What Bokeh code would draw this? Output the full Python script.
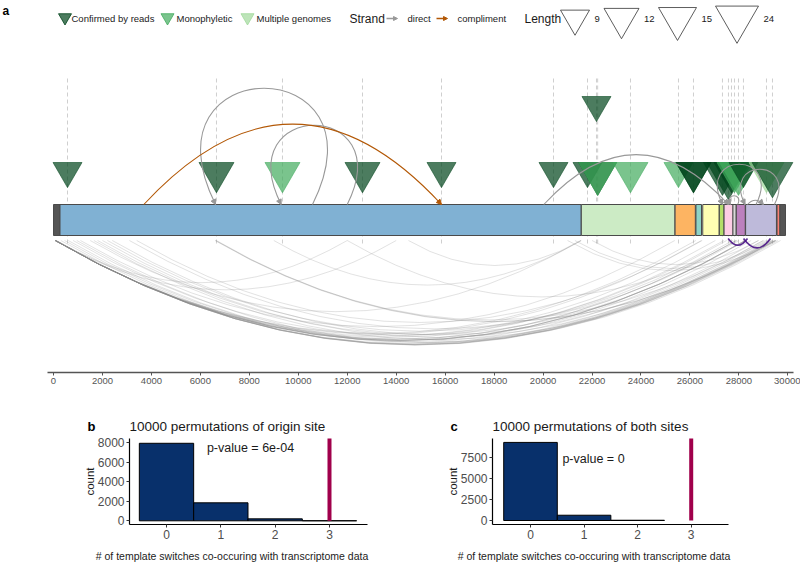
import numpy as np
from bokeh.plotting import figure
from bokeh.layouts import column, row
from bokeh.models import Range1d, FixedTicker, ColumnDataSource, Arrow, NormalHead
from bokeh.core.properties import value
from bokeh.embed import file_html
from bokeh.resources import INLINE

FONT = "Liberation Sans"

# ---------------- data ----------------
gene_names = ["5'UTR", "ORF1ab", "S", "ORF3a", "E", "M", "ORF6", "ORF7a", "ORF7b", "ORF8", "N", "ORF10", "3'UTR"]
gene_start = [1, 266, 21563, 25393, 26245, 26523, 27202, 27394, 27756, 27894, 28274, 29558, 29675]
gene_end = [265, 21555, 25384, 26220, 26472, 27191, 27387, 27759, 27887, 28259, 29533, 29674, 29903]
gene_colors = ["#555555", "#80b1d3", "#ccebc5", "#fdb462", "#8dd3c7", "#ffffb3", "#b3de69",
               "#fccde5", "#d9d9d9", "#bc80bd", "#bebada", "#fb8072", "#555555"]

genome_ticks = [0, 2000, 4000, 6000, 8000, 10000, 12000, 14000, 16000, 18000, 20000,
                22000, 24000, 26000, 28000, 30000]

site_pos = [572, 6658, 9354, 12623, 15850, 20425, 21814, 22181, 22230, 22230, 23570, 25531,
            26144, 26144, 27328, 27573, 27696, 27819, 27982, 28186, 29126, 29371]
site_len = [9, 12, 12, 12, 9, 9, 9, 9, 15, 15, 12, 9, 12, 12, 15, 24, 12, 12, 15, 9, 12, 20]
site_cat = ["Confirmed by reads", "Confirmed by reads", "Monophyletic", "Confirmed by reads",
            "Confirmed by reads", "Confirmed by reads", "Confirmed by reads", "Confirmed by reads",
            "Confirmed by reads", "Monophyletic", "Monophyletic", "Monophyletic",
            "Confirmed by reads", "Confirmed by reads", "Confirmed by reads", "Confirmed by reads",
            "Confirmed by reads", "Monophyletic", "Monophyletic", "Confirmed by reads",
            "Multiple genomes", "Confirmed by reads"]
site_row = [0, 0, 0, 0, 0, 0, 0, 1, 0, 0, 0, 0, 0, 0, 0, 0, 0, 0, 0, 0, 0, 0]

categories = ["Confirmed by reads", "Monophyletic", "Multiple genomes"]
cat_colors = {"Confirmed by reads": "#00441b", "Monophyletic": "#41ab5d", "Multiple genomes": "#a1d99b"}
legend_lengths = [9, 12, 15, 24]

# template switches (origin -> destination) above the genome
upper_from = [3690, 10580, 12000, 20030, 28700, 29450, 27950, 28350]
upper_to = [15850, 6620, 9300, 27575, 27330, 28250, 27650, 29000]
upper_strand = ["compliment", "direct", "direct", "direct", "direct", "direct", "direct", "direct"]
strand_names = ["direct", "compliment"]
strand_colors = {"direct": "#999999", "compliment": "#b35806"}

# transcriptome junctions below the genome
lower_from = [70, 70, 70, 72, 75, 68, 70, 74, 80, 66, 70, 71, 69, 73, 1100, 1500, 1650, 1800,
              2200, 2400, 300, 450, 600, 800, 950, 6600, 6650, 6620, 3100, 3400, 12000, 9000,
              14500, 21000, 21300, 22000, 100, 120, 70, 75, 80, 2000]
lower_to = [29530, 29450, 29380, 29250, 29100, 28260, 28255, 28270, 27900, 27890, 27390, 27040,
            26470, 26240, 25380, 21550, 29600, 28300, 27750, 29000, 28800, 28500, 29350, 27500,
            29700, 29500, 29480, 29000, 28000, 26500, 27900, 21560, 21550, 29500, 29200, 28800,
            14000, 12000, 29400, 28260, 29500, 29300]
confirmed_from = [27560, 28190]
confirmed_to = [28350, 29290]

perm_bins_origin = [0, 1, 2, 3]
perm_counts_origin = [7950, 1844, 200, 6]
perm_bins_both = [0, 1, 2]
perm_counts_both = [9340, 630, 30]
observed_switches = 3
pvalue_origin = "p-value = 6e-04"
pvalue_both = "p-value = 0"
hist_yticks_origin = [0, 2000, 4000, 6000, 8000]
hist_yticks_both = [0, 2500, 5000, 7500]
hist_xticks = [0, 1, 2, 3]
xlab_text = "# of template switches co-occuring with transcriptome data"

# ---------------- panel a ----------------
A_W, A_H = 800, 400
GX0 = 53.0              # page x of genome position 0
PPU = 746 / 30475       # pixels per nucleotide
AXIS_Y = 372            # page y of the genome axis


def gx(px):
    return (px - GX0) / PPU


def ya(py):
    return AXIS_Y - py


pa = figure(width=A_W, height=A_H, x_range=Range1d(gx(0), gx(A_W)), y_range=Range1d(ya(A_H), ya(0)),
            output_backend="svg", toolbar_location=None, y_axis_location=None, min_border=0)
pa.xgrid.visible = False
pa.ygrid.visible = False
pa.outline_line_color = None
pa.xaxis.fixed_location = ya(AXIS_Y)
pa.xaxis.bounds = (gx(47), gx(793))
pa.xaxis.ticker = FixedTicker(ticks=genome_ticks)
pa.xaxis.axis_line_color = "#555555"
pa.xaxis.axis_line_width = 1.5
pa.xaxis.major_tick_line_color = "#555555"
pa.xaxis.major_tick_out = 3
pa.xaxis.major_tick_in = 0
pa.xaxis.minor_tick_line_color = None
pa.xaxis.major_label_text_font = FONT
pa.xaxis.major_label_text_font_size = "9.5px"
pa.xaxis.major_label_text_color = "#555555"
pa.xaxis.major_label_standoff = 2

# dashed site markers
uniq_sites = sorted(set(site_pos))
pa.segment(x0=uniq_sites, y0=ya(243), x1=uniq_sites, y1=ya(75), line_color="#cfcfcf",
           line_dash="4 3", line_width=1)

# lower junction arcs
lf = np.array(lower_from, dtype=float)
lt = np.array(lower_to, dtype=float)
lo_base = ya(240)
depth = 0.145 * np.abs(lt - lf) * PPU
pa.quadratic(x0=lf, y0=lo_base, x1=lt, y1=lo_base, cx=(lf + lt) / 2, cy=lo_base - 2 * depth,
             line_color="#8c8c8c", line_alpha=0.25, line_width=1)
cf = np.array(confirmed_from, dtype=float)
ct = np.array(confirmed_to, dtype=float)
cdepth = 0.35 * np.abs(ct - cf) * PPU
pa.quadratic(x0=cf, y0=lo_base + 2, x1=ct, y1=lo_base + 2, cx=(cf + ct) / 2, cy=lo_base + 2 - 2 * cdepth,
             line_color="#4a1486", line_alpha=0.9, line_width=1.6)

# genome bar
pa.quad(left=gene_start, right=gene_end, bottom=ya(235), top=ya(204), fill_color=gene_colors,
        line_color="#4a4a4a", line_width=1)


def tri_size(L):
    return np.interp(L, [9, 12, 15, 24], [29, 35, 38, 43])


sizes = tri_size(np.array(site_len, dtype=float))
base = np.where(np.array(site_row) == 1, ya(96), ya(162))
yc = base - sizes * np.sqrt(3) / 2 / 3
tcol = [cat_colors[c] for c in site_cat]
pa.scatter(x=site_pos, y=yc, size=sizes, marker="inverted_triangle", fill_color=tcol,
           fill_alpha=0.7, line_color=tcol, line_alpha=0.8, line_width=0.7)

# upper template-switch arcs
up_base = ya(204)
for strand in strand_names:
    col = strand_colors[strand]
    xs_e, ys_e, xs_s, ys_s = [], [], [], []
    fw = dict(x0=[], x1=[], cx=[], cy=[])
    bw = dict(x0=[], x1=[], cx0=[], cx1=[], cy=[])
    for f, t, s in zip(upper_from, upper_to, upper_strand):
        if s != strand:
            continue
        span_px = abs(t - f) * PPU
        if t > f:
            hgt = 0.27 * span_px
            cx, cy = (f + t) / 2, up_base + 2 * hgt
            fw["x0"].append(f); fw["x1"].append(t); fw["cx"].append(cx); fw["cy"].append(cy)
            dx, dy = (t - cx) * PPU, up_base - cy
        else:
            k = 0.8 * abs(t - f)
            h = 1.6 * span_px
            bw["x0"].append(f); bw["x1"].append(t)
            bw["cx0"].append(f + k); bw["cx1"].append(t - k); bw["cy"].append(up_base + h)
            dx, dy = k * PPU, -h
        n = np.hypot(dx, dy)
        xs_e.append(t); ys_e.append(up_base)
        xs_s.append(t - dx / n * 4 / PPU); ys_s.append(up_base - dy / n * 4)
    if fw["x0"]:
        pa.quadratic(x0=fw["x0"], y0=up_base, x1=fw["x1"], y1=up_base, cx=fw["cx"], cy=fw["cy"],
                     line_color=col, line_width=1.1)
    if bw["x0"]:
        pa.bezier(x0=bw["x0"], y0=up_base, x1=bw["x1"], y1=up_base, cx0=bw["cx0"], cy0=bw["cy"],
                  cx1=bw["cx1"], cy1=bw["cy"], line_color=col, line_width=1.1)
    if xs_e:
        src = ColumnDataSource(dict(xs=xs_s, ys=ys_s, xe=xs_e, ye=ys_e))
        pa.add_layout(Arrow(end=NormalHead(size=5, fill_color=col, line_color=col, line_width=1),
                            x_start="xs", y_start="ys", x_end="xe", y_end="ye", source=src,
                            line_color=col, line_width=1.1))

# legend (positions in page pixels)
LY = ya(18)
leg_tri_x = [gx(v) for v in (64.5, 167, 247)]
leg_txt_x = [gx(v) for v in (71, 176, 256)]
pa.scatter(x=leg_tri_x, y=LY + 1, size=13, marker="inverted_triangle",
           fill_color=[cat_colors[c] for c in categories], fill_alpha=0.7,
           line_color=[cat_colors[c] for c in categories], line_alpha=0.8)
pa.text(x=leg_txt_x, y=LY, text=categories, text_font=value(FONT),
        text_font_size="9.5px", text_baseline="middle", text_align="left", text_color="#1a1a1a")
pa.text(x=[gx(349), gx(524)], y=LY, text=["Strand", "Length"], text_font=value(FONT),
        text_font_size="12px", text_baseline="middle", text_align="left", text_color="#1a1a1a")
pa.text(x=[gx(407), gx(457)], y=LY, text=strand_names, text_font=value(FONT),
        text_font_size="9.5px", text_baseline="middle", text_align="left", text_color="#1a1a1a")
for (x0, x1), s in zip([(386, 397), (436, 447)], strand_names):
    c = strand_colors[s]
    pa.add_layout(Arrow(end=NormalHead(size=4, fill_color=c, line_color=c), x_start=gx(x0), y_start=LY,
                        x_end=gx(x1), y_end=LY, line_color=c, line_width=1.5))
leg_size_px = np.array([574.5, 621, 677, 736.5])
lsz = tri_size(np.array(legend_lengths, dtype=float))
pa.scatter(x=gx(leg_size_px), y=LY, size=lsz, marker="inverted_triangle", fill_color="white",
           line_color="#333333", line_width=0.8)
pa.text(x=gx(leg_size_px + lsz / 2 + 5), y=LY, text=[str(v) for v in legend_lengths],
        text_font=value(FONT), text_font_size="9.5px", text_baseline="middle",
        text_align="left", text_color="#1a1a1a")
pa.text(x=[gx(2)], y=[ya(3)], text=["a"], text_font=value(FONT), text_font_size="12px",
        text_font_style="bold", text_baseline="top", text_align="left", text_color="black")

# ---------------- panels b, c ----------------
TOP = A_H
H_BC = 568 - A_H


def make_hist(page_left, letter, letter_x, title, bins, counts, pval, pval_xy, yticks,
              x0_page, px_per_unit, y0_page, px_per_count, frame_l, frame_r, count_x, xlab_x):
    W = 400

    def hx(px):
        return (px - x0_page) / px_per_unit

    def hy(py):
        return (y0_page - py) / px_per_count

    p = figure(width=W, height=H_BC, x_range=Range1d(hx(page_left), hx(page_left + W)),
               y_range=Range1d(hy(TOP + H_BC), hy(TOP)), output_backend="svg",
               toolbar_location=None, min_border=0)
    p.xgrid.visible = False
    p.ygrid.visible = False
    p.outline_line_color = None
    ytop = hy(438)
    ybot = hy(524)
    p.xaxis.fixed_location = ybot
    p.yaxis.fixed_location = hx(frame_l)
    p.xaxis.bounds = (hx(frame_l), hx(frame_r))
    p.yaxis.bounds = (ybot, ytop)
    for ax in (p.xaxis, p.yaxis):
        ax.axis_line_color = "black"
        ax.axis_line_width = 1.2
        ax.major_tick_line_color = "#333333"
        ax.major_tick_out = 3
        ax.major_tick_in = 0
        ax.minor_tick_line_color = None
        ax.major_label_text_font = FONT
        ax.major_label_text_font_size = "12px"
        ax.major_label_text_color = "#4d4d4d"
        ax.major_label_standoff = 2
    p.xaxis.ticker = FixedTicker(ticks=hist_xticks)
    p.yaxis.ticker = FixedTicker(ticks=yticks)
    b = np.array(bins, dtype=float)
    p.quad(left=b - 0.5, right=b + 0.5, bottom=0, top=counts, fill_color="#08306b",
           line_color="black", line_width=1)
    p.segment(x0=[observed_switches], y0=0, x1=[observed_switches], y1=ytop, line_color="#a0004b",
              line_width=4)
    p.text(x=[hx(pval_xy[0])], y=[hy(pval_xy[1])], text=[pval], text_font=value(FONT),
           text_font_size="12.5px", text_align="center", text_baseline="middle", text_color="#1a1a1a")
    p.text(x=[hx(frame_l)], y=[hy(426)], text=[title], text_font=value(FONT),
           text_font_size="13.5px", text_align="left", text_baseline="middle", text_color="#1a1a1a")
    p.text(x=[hx(letter_x)], y=[hy(426)], text=[letter], text_font=value(FONT),
           text_font_size="13px", text_font_style="bold", text_align="left",
           text_baseline="middle", text_color="black")
    p.text(x=[hx(count_x)], y=[hy(481)], text=["count"], angle=np.pi / 2, text_font=value(FONT),
           text_font_size="11.5px", text_align="center", text_baseline="middle", text_color="#1a1a1a")
    p.text(x=[hx(xlab_x)], y=[hy(555)], text=[xlab_text], text_font=value(FONT),
           text_font_size="10.5px", text_align="center", text_baseline="middle", text_color="#222222")
    return p


pb = make_hist(0, "b", 87, "10000 permutations of origin site", perm_bins_origin, perm_counts_origin,
               pvalue_origin, (250, 447), hist_yticks_origin, 166, 54.33, 520.3, 0.00975, 129, 367,
               89, 231.5)
pc = make_hist(400, "c", 450, "10000 permutations of both sites", perm_bins_both, perm_counts_both,
               pvalue_both, (593, 458), hist_yticks_both, 530, 53.57, 520, 0.00836, 492, 728,
               452, 593.5)

layout = column(pa, row(pb, pc))
open("out.html", "w").write(file_html(layout, INLINE))
